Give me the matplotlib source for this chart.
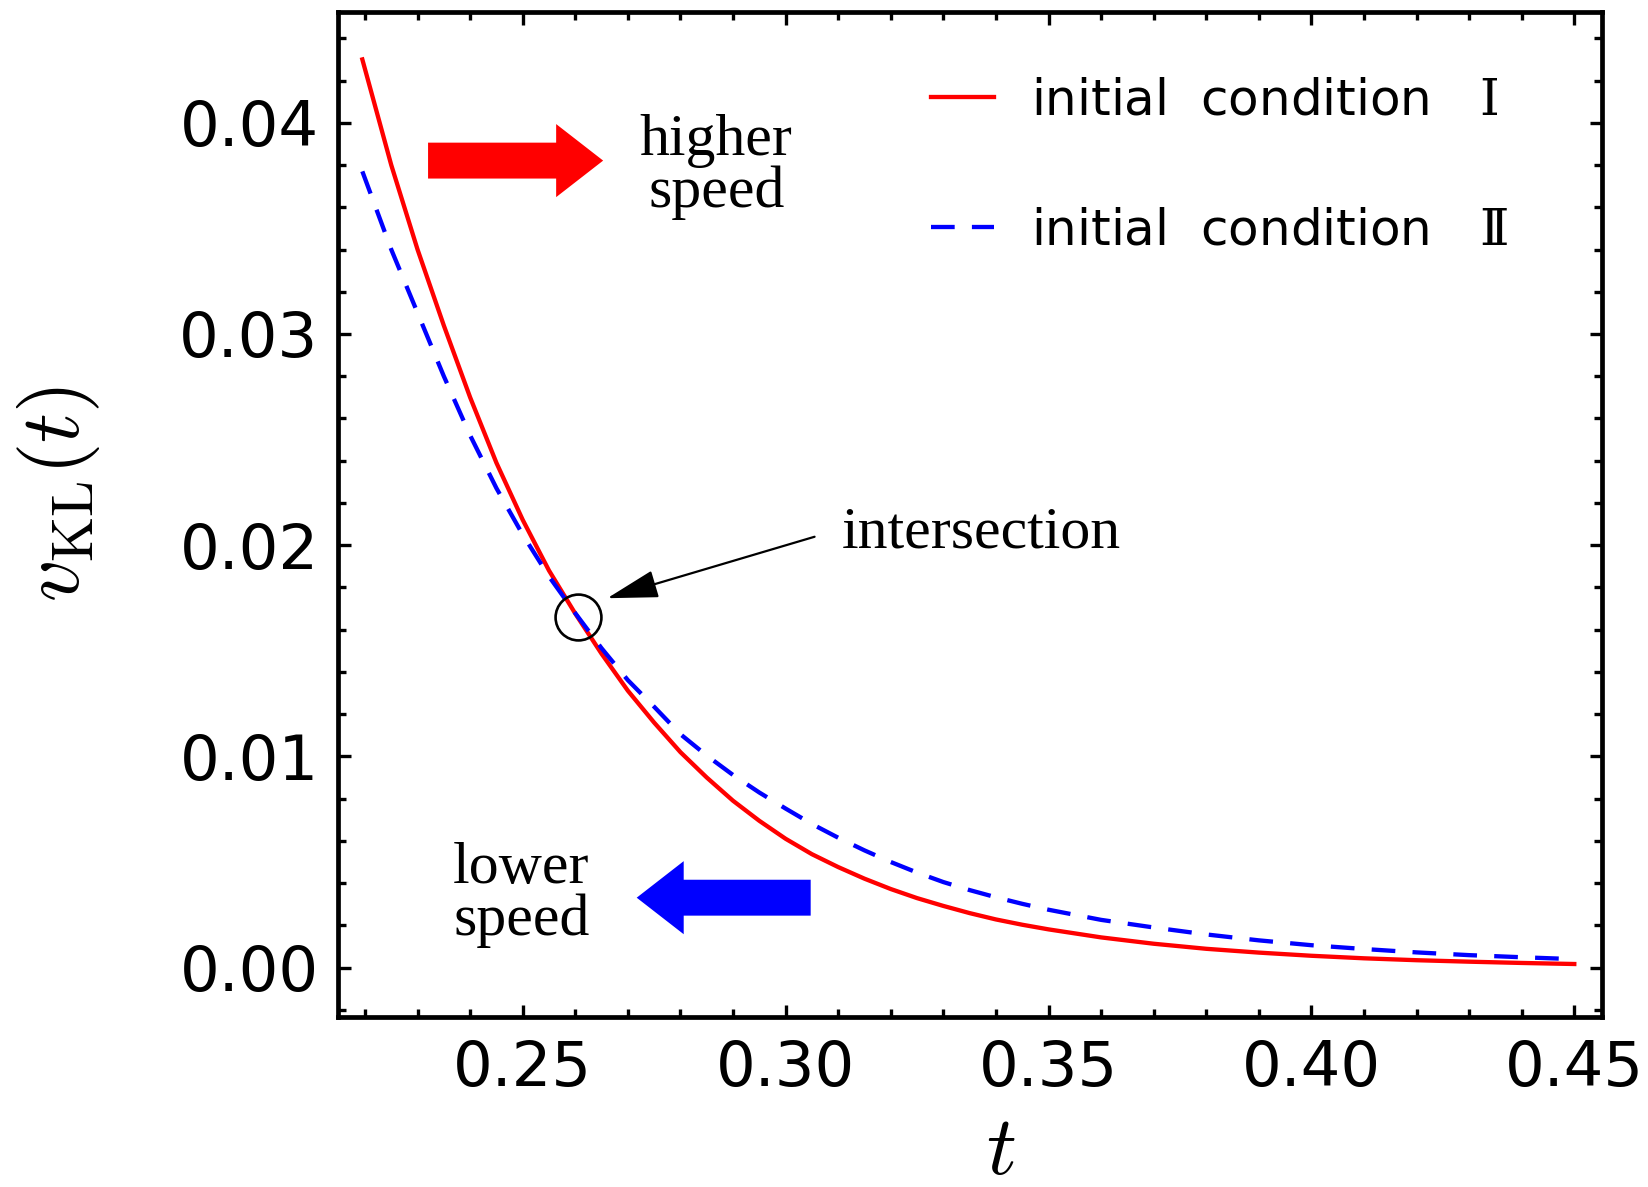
import numpy as np
import matplotlib
matplotlib.use("Agg")
import matplotlib.pyplot as plt
from matplotlib.patches import FancyArrow
from matplotlib.font_manager import FontProperties

# values
t = [0.2195, 0.225, 0.230, 0.235, 0.240, 0.245, 0.250, 0.255, 0.260, 0.265,
     0.270, 0.275, 0.280, 0.285, 0.290, 0.295, 0.300, 0.305, 0.310, 0.315,
     0.320, 0.325, 0.330, 0.335, 0.340, 0.345, 0.350, 0.360, 0.370, 0.380,
     0.390, 0.400, 0.410, 0.420, 0.430, 0.440, 0.450]
v_cond1 = [0.0430, 0.0380, 0.0340, 0.0304, 0.0270, 0.0239, 0.0212, 0.0188,
           0.01676, 0.01486, 0.01311, 0.01160, 0.0102, 0.0090, 0.00790,
           0.00695, 0.0061, 0.00537, 0.00476, 0.00421, 0.00372, 0.00329,
           0.00292, 0.00258, 0.00228, 0.00203, 0.00181, 0.00143, 0.00113,
           0.00089, 0.00071, 0.00056, 0.00044, 0.00035, 0.00028, 0.00022,
           0.00017]
v_cond2 = [0.0377, 0.0340, 0.0310, 0.0280, 0.0252, 0.0227, 0.0205, 0.01852,
           0.01678, 0.01512, 0.01361, 0.01235, 0.01105, 0.01004, 0.00912,
           0.00829, 0.00753, 0.00680, 0.00615, 0.00555, 0.00500, 0.00450,
           0.00405, 0.00367, 0.00333, 0.00302, 0.00274, 0.00226, 0.00190,
           0.00157, 0.00129, 0.00106, 0.00088, 0.00072, 0.00059, 0.00049,
           0.00040]
labels = ["initial  condition   $\\mathrm{\u2160}$",
          "initial  condition   $\\mathrm{\u2161}$"]
xticks = [0.25, 0.30, 0.35, 0.40, 0.45]
yticks = [0.00, 0.01, 0.02, 0.03, 0.04]
cross_t, cross_v = 0.2605, 0.0166

plt.rcParams["mathtext.fontset"] = "cm"
plt.rcParams["font.family"] = "DejaVu Sans"

fig = plt.figure(figsize=(16.49, 11.87), dpi=100)
ax = fig.add_axes([0.20497, 0.14322, 0.76653, 0.84667])

ax.plot(t, v_cond1, color="#ff0000", lw=3.1, label=labels[0])
ax.plot(t, v_cond2, color="#0000ff", lw=3.1, dashes=(5.5, 4), label=labels[1])

ax.set_xlim(0.21487, 0.45527)
ax.set_ylim(-0.002339, 0.045246)
ax.set_xticks(xticks)
ax.set_xticklabels([f"{x:.2f}" for x in xticks])
ax.set_yticks(yticks)
ax.set_yticklabels([f"{y:.2f}" for y in yticks])
ax.set_xticks(np.arange(0.22, 0.455, 0.01), minor=True)
ax.set_yticks(np.arange(-0.002, 0.045, 0.002), minor=True)

for s in ax.spines.values():
    s.set_linewidth(3.4)
ax.tick_params(which="both", direction="in", top=True, right=True,
               width=2.4, labelsize=45)
ax.tick_params(which="major", length=9)
ax.tick_params(which="minor", length=6)
ax.tick_params(axis="x", which="major", pad=16)
ax.tick_params(axis="y", which="major", pad=14)

fig.text(0.607, 0.011, "$t$", fontsize=60, ha="center", va="baseline")
fig.text(0.0352, 0.5838, r"$v_{\rm KL}(t)$", fontsize=60, rotation=90,
         ha="center", va="center")

leg_font = FontProperties(family="DejaVu Sans", size=36,
                          math_fontfamily="dejavuserif")
ax.legend(loc="upper left", bbox_to_anchor=(0.469, 0.936), frameon=False,
          prop=leg_font, handlelength=1.26, handletextpad=0.75,
          labelspacing=1.65, borderpad=0, borderaxespad=0)

# speed arrows
ax.add_patch(FancyArrow(0.2320, 0.03821, 0.0333, 0, width=0.0017,
                        head_width=0.00346, head_length=0.00894,
                        length_includes_head=True, color="#ff0000", lw=0))
ax.add_patch(FancyArrow(0.30477, 0.00331, -0.03309, 0, width=0.0017,
                        head_width=0.00346, head_length=0.00894,
                        length_includes_head=True, color="#0000ff", lw=0))

serif = "Liberation Serif"
ax.text(0.2868, 0.0379, "higher\nspeed", family=serif, fontsize=43,
        ha="center", va="center", linespacing=0.93)
ax.text(0.24975, 0.00345, "lower\nspeed", family=serif, fontsize=43,
        ha="center", va="center", linespacing=0.93)

# intersection marker
ax.plot([cross_t], [cross_v], marker="o", ms=33, mfc="none", mec="black",
        mew=1.9)
ax.text(0.3106, 0.01987, "intersection", family=serif, fontsize=43,
        ha="left", va="baseline")
ax.annotate("", xy=(0.26609, 0.01749), xytext=(0.30551, 0.0204),
            arrowprops=dict(arrowstyle="-|>,head_length=0.8,head_width=0.22",
                            mutation_scale=40, color="black", lw=1.6,
                            shrinkA=0, shrinkB=0))

fig.savefig("out.png", dpi=100)
